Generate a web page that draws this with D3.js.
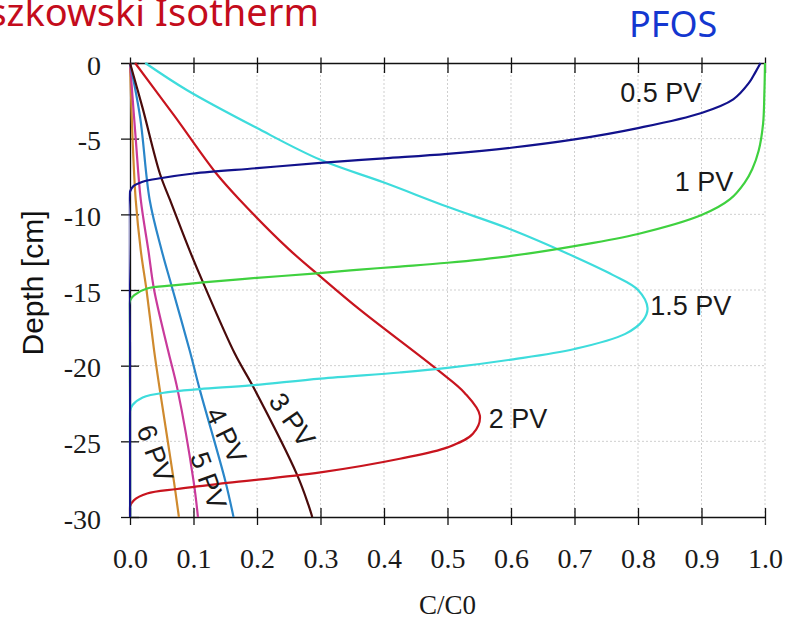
<!DOCTYPE html>
<html>
<head>
<meta charset="utf-8">
<script src="https://cdn.jsdelivr.net/npm/d3@7"></script>
<style>
  html, body { margin: 0; padding: 0; background: #fff; }
  svg { display: block; }
</style>
</head>
<body>
<script>
// Concentration profiles C/C0 vs depth, one per pore volume (PV) flushed
const pv05 = [[0.993,0],[0.985,-0.6],[0.975,-1.3],[0.95,-2.4],[0.9,-3.3],[0.8,-4.3],[0.7,-5.05],[0.6,-5.6],[0.5,-6.0],[0.4,-6.3],[0.3,-6.6],[0.2,-6.95],[0.1,-7.3],[0.05,-7.6],[0.02,-7.85],[0.005,-8.15],[0,-8.5],[0,-19],[0,-30]];
const pv1 = [[1.0,0],[0.999,-2],[0.997,-4],[0.99,-5.8],[0.98,-7],[0.968,-7.9],[0.945,-9.0],[0.9,-10.05],[0.8,-11.3],[0.7,-12.1],[0.6,-12.75],[0.5,-13.2],[0.425,-13.45],[0.362,-13.65],[0.294,-13.9],[0.2,-14.2],[0.115,-14.5],[0.068,-14.7],[0.027,-14.9],[0.008,-15.3],[0,-15.7],[0,-23],[0,-30]];
const pv15 = [[0.024,0],[0.09,-1.8],[0.2,-4.3],[0.3,-6.4],[0.4,-7.9],[0.5,-9.5],[0.6,-11.0],[0.7,-12.8],[0.76,-14.0],[0.8,-15.0],[0.815,-16.2],[0.808,-17.0],[0.78,-17.9],[0.7,-18.9],[0.6,-19.6],[0.5,-20.15],[0.425,-20.45],[0.3,-20.85],[0.19,-21.3],[0.11,-21.55],[0.06,-21.75],[0.02,-22.1],[0.004,-22.6],[0,-23.0],[0,-26.5],[0,-30]];
const pv2 = [[0.008,0],[0.07,-3.5],[0.134,-7.2],[0.173,-9.05],[0.25,-12.3],[0.294,-13.9],[0.362,-16.3],[0.485,-20.3],[0.527,-21.8],[0.551,-23.3],[0.54,-24.5],[0.5,-25.4],[0.425,-26.15],[0.3,-27.05],[0.153,-27.75],[0.074,-28.15],[0.027,-28.45],[0.006,-28.9],[0,-29.3],[0,-30]];
const pv3 = [[0,0],[0.02,-3],[0.047,-7.3],[0.063,-9.05],[0.094,-12.4],[0.115,-14.5],[0.165,-19.2],[0.194,-21.4],[0.263,-27.2],[0.281,-29.2],[0.287,-30]];
const pv4 = [[0,0],[0.016,-3.6],[0.031,-9.05],[0.05,-12.4],[0.066,-14.8],[0.094,-19.0],[0.11,-21.6],[0.15,-27.6],[0.163,-30]];
const pv5 = [[0,0],[0.009,-5],[0.017,-9.05],[0.029,-12.4],[0.038,-15],[0.06,-19.0],[0.075,-21.6],[0.1,-27.6],[0.107,-30]];
const pv6 = [[0,0],[0.004,-5],[0.009,-9.05],[0.017,-12.4],[0.026,-15],[0.038,-19.0],[0.047,-21.6],[0.069,-27.6],[0.077,-30]];

const seriesData = [pv6, pv5, pv4, pv3, pv2, pv15, pv1, pv05];
const seriesColors = ["#cf8a2e", "#c93a9b", "#2a86c9", "#4a0b0b", "#c8141e", "#3edcdc", "#3fd13f", "#12128c"];

const xTicks = [0, 0.1, 0.2, 0.3, 0.4, 0.5, 0.6, 0.7, 0.8, 0.9, 1.0];
const yTicks = [0, -5, -10, -15, -20, -25, -30];

// Curve labels: text, centre [C/C0, depth], rotation
const labelText = ["0.5 PV", "1 PV", "1.5 PV", "2 PV", "3 PV", "4 PV", "5 PV", "6 PV"];
const labelPos = [[0.836, -1.95], [0.904, -7.85], [0.883, -16.05], [0.611, -23.5], [0.255, -23.6], [0.151, -24.6], [0.123, -27.6], [0.039, -25.8]];
const labelAngle = [0, 0, 0, 0, 55, 64, 70, 70];

const W = 787, H = 624;
const svg = d3.select("body").append("svg").attr("width", W).attr("height", H);

const x = d3.scaleLinear().domain([0, 1]).range([130, 765]);
const y = d3.scaleLinear().domain([0, -30]).range([63, 517]);

const defs = svg.append("defs");
// Everything of the plot lies below the heading band
defs.append("clipPath").attr("id", "plotClip")
  .append("rect").attr("x", 0).attr("y", 57.5).attr("width", W).attr("height", H - 57.5);
// Profiles stay inside the frame
defs.append("clipPath").attr("id", "lineClip")
  .append("rect").attr("x", x(0) - 1.2).attr("y", y(0) - 1.2)
  .attr("width", x(1) - x(0) + 2.4).attr("height", y(-30) - y(0) + 2.4);

const g = svg.append("g").attr("clip-path", "url(#plotClip)");

// Dotted grid
g.append("g").selectAll("line").data(xTicks.slice(1)).join("line")
  .attr("x1", d => x(d)).attr("x2", d => x(d)).attr("y1", y(0)).attr("y2", y(-30))
  .attr("stroke", "#cfcfcf").attr("stroke-width", 1).attr("stroke-dasharray", "2,2");
g.append("g").selectAll("line").data(yTicks.slice(1, -1)).join("line")
  .attr("x1", x(0)).attr("x2", x(1)).attr("y1", d => y(d)).attr("y2", d => y(d))
  .attr("stroke", "#cfcfcf").attr("stroke-width", 1).attr("stroke-dasharray", "2,2");

// Axes: ticks cross the axis lines
const axisColor = "#111";
const serif = "'Liberation Serif', 'Times New Roman', serif";
const sans = "'Liberation Sans', Arial, sans-serif";
function styleAxis(sel) {
  sel.attr("font-family", null).attr("font-size", null);
  sel.select(".domain").attr("stroke", axisColor).attr("stroke-width", 1.3);
  sel.selectAll(".tick line").attr("stroke", axisColor).attr("stroke-width", 1.3);
  sel.selectAll(".tick text").style("font-family", serif).style("font-size", "28px").attr("fill", "#1a1a1a");
}
const axisB = g.append("g").attr("transform", `translate(0,${y(-30)})`)
  .call(d3.axisBottom(x).tickValues(xTicks).tickSize(8).tickSizeOuter(0).tickFormat(d3.format(".1f")));
styleAxis(axisB);
axisB.selectAll(".tick line").attr("y1", -9).attr("y2", 8);
axisB.selectAll(".tick text").attr("y", 51).attr("dy", 0);

const axisT = g.append("g").attr("transform", `translate(0,${y(0)})`)
  .call(d3.axisTop(x).tickValues(xTicks).tickSize(8).tickSizeOuter(0).tickFormat(""));
styleAxis(axisT);
axisT.selectAll(".tick line").attr("y1", -8).attr("y2", 10);

const axisL = g.append("g").attr("transform", `translate(${x(0)},0)`)
  .call(d3.axisLeft(y).tickValues(yTicks).tickSize(9).tickSizeOuter(0).tickFormat(d => String(d)));
styleAxis(axisL);
axisL.selectAll(".tick line").attr("x1", -9).attr("x2", 9);
axisL.selectAll(".tick text").attr("x", -29).attr("dy", 0).attr("y", 11);

// Profiles
const line = d3.line().x(d => x(d[0])).y(d => y(d[1])).curve(d3.curveCatmullRom.alpha(0.5));
g.append("g").attr("clip-path", "url(#lineClip)")
  .selectAll("path").data(seriesData).join("path")
  .attr("d", line).attr("fill", "none")
  .attr("stroke", (d, i) => seriesColors[i]).attr("stroke-width", 2.2)
  .attr("stroke-linejoin", "round");

// Curve labels
g.append("g").selectAll("text").data(labelText).join("text")
  .attr("transform", (d, i) => `translate(${x(labelPos[i][0])},${y(labelPos[i][1])}) rotate(${labelAngle[i]})`)
  .attr("text-anchor", "middle").attr("dominant-baseline", "central")
  .style("font-family", sans).style("font-size", "27px").attr("fill", "#1a1a1a")
  .text(d => d);

// Axis titles
svg.append("text").attr("x", x(0.5)).attr("y", 614).attr("text-anchor", "middle")
  .style("font-family", serif).style("font-size", "27px").attr("fill", "#1a1a1a")
  .text("C/C0");
svg.append("text").attr("transform", "translate(43,283) rotate(-90)").attr("text-anchor", "middle")
  .style("font-family", sans).style("font-size", "30px").attr("fill", "#111")
  .text("Depth [cm]");

// Heading band
svg.append("text").attr("x", 319).attr("y", 26).attr("text-anchor", "end")
  .style("font-family", "'Noto Sans', sans-serif").style("font-size", "38px").attr("fill", "#c40c1c")
  .text("szkowski Isotherm");
svg.append("text").attr("x", 629).attr("y", 37)
  .style("font-family", "'Noto Sans', sans-serif").style("font-size", "36px").attr("fill", "#1437d0")
  .text("PFOS");
</script>
</body>
</html>
